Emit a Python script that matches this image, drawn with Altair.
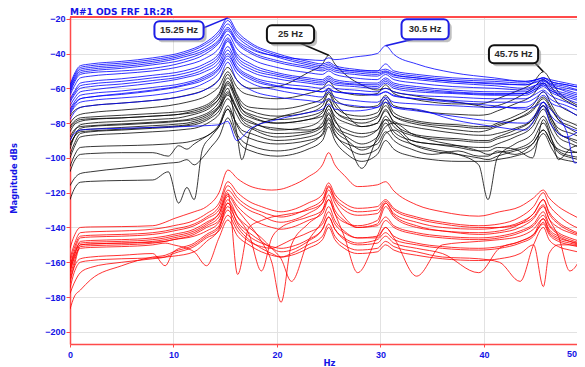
import altair as alt
import pandas as pd

# ---------------- data (dB magnitudes) ----------------
FB = [0, 0.4, 1.0, 2, 5, 8, 11, 13, 14.4, 15.25, 16.1, 17.5, 20, 23, 24.4, 25, 25.6,
      27.5, 29.7, 30.5, 31.3, 33.5, 37, 41, 44, 45.1, 45.75, 46.4, 48, 48.8, 50]
BLUE = [
    [-58,-52,-47,-46,-44.5,-42.5,-39,-34,-27,-19.5,-27,-34,-40,-44.5,-46,-45,-47,-49,-50,-49,-51,-53,-55,-56,-57,-55,-54,-56,-58,-59,-60],
    [-59,-53,-48,-47,-45.5,-43.5,-40,-35,-28.5,-21,-28.5,-35,-41,-45.5,-47,-46,-48,-50,-51,-50,-52,-54,-56,-57.5,-58,-56,-55,-57,-59,-60.5,-62],
    [-60,-54,-49,-48,-46.5,-44.5,-41,-36.5,-30,-23,-30,-36.5,-42,-46.5,-48,-47,-48.5,-50,-50,-46,-50,-52,-54,-55,-56,-55,-54,-55,-57,-58,-59],
    [-61,-55,-50,-49,-47.5,-45.5,-42,-38,-32,-25,-32,-37.5,-41.5,-43.5,-44,-42.5,-43.5,-42,-40,-35.5,-40.5,-46,-51,-54,-56,-55,-54,-56,-58,-59,-60],
    [-63,-57,-52,-51,-50,-48.5,-45,-40.5,-34,-27,-34,-40,-45,-48.5,-50,-49,-50.5,-52,-53,-51,-53.5,-55,-57,-58.5,-60,-58,-57,-59,-61,-62.5,-64],
    [-64,-59,-54,-53,-51.5,-50,-47,-43,-37,-29,-37,-43,-48,-51,-52,-50,-52,-54,-55,-52,-55,-57,-59,-60,-61,-58,-56,-58,-62,-63.5,-65],
    [-66,-62,-57,-56,-54.5,-52.5,-50,-46,-40,-31,-40,-46,-51,-54,-55,-53,-55,-56.5,-57,-54,-57,-59,-61,-62,-62,-59,-57,-60,-63,-64.5,-66],
    [-68,-64,-60,-59,-57.5,-55.5,-53,-49,-43,-33,-43,-49,-53,-56,-57,-55,-57,-58,-59,-56,-59,-61,-62.5,-63.5,-63,-60,-58,-61,-65,-66.5,-68],
    [-70,-66,-62,-61,-59,-57,-54,-50.5,-45,-36,-45,-50.5,-54.5,-57,-58,-56,-58,-59,-60,-57,-60,-62,-63,-64,-64,-61,-59,-62,-66,-68,-70],
    [-72,-68,-64,-63,-61.5,-59.5,-57,-53,-47,-38,-47,-53,-57,-59,-60,-58,-60,-61,-62,-60,-62,-64,-65,-66,-66,-63,-61,-64,-68,-70,-72],
    [-73,-69,-66,-65,-63.5,-61.5,-58.5,-55,-49,-40,-49,-55,-59,-61,-62,-60,-62,-63,-64,-62,-64.5,-66,-67,-68,-68,-65,-62,-66,-70,-72,-75],
    [-75,-71,-68,-67,-65.5,-64,-61,-57,-51,-43,-51,-57,-61,-64,-65,-62,-65,-67,-68,-65,-68,-69,-70,-71,-71,-67,-64,-68,-72,-75,-78],
    [-90,-86,-84,-83.5,-83,-82.5,-82,-81.5,-81,-79,-90,-83,-78,-74,-72,-69,-72,-73,-71,-66,-71,-72,-78,-82,-84,-76,-70,-80,-88,-86,-82],
    [-74,-70,-66,-65,-63,-61,-58,-54,-48.5,-41.5,-48.5,-54,-58.5,-61,-62,-61,-62,-63,-63.5,-62,-64,-66,-68,-70,-72,-70,-68,-72,-85,-103,-92],
    [-62,-56,-51,-50,-48.5,-46.5,-43.5,-39,-33,-26,-33,-39,-44,-47.5,-49,-48,-49.5,-51,-52,-50.5,-52.5,-54,-56,-57,-58,-56.5,-55.5,-57.5,-60,-61,-62.5],
    [-67,-63,-58.5,-57.5,-56,-54,-51.5,-47.5,-41.5,-32,-41.5,-47.5,-52,-55,-56,-54,-56,-57.5,-58,-55,-58,-60,-62,-63,-63,-60,-58,-61,-64,-65.5,-67],
    [-78,-74,-71,-70,-68.5,-67,-64.5,-61,-55,-45,-55,-61,-65,-67,-68,-66,-68,-70,-71,-68,-71,-73,-76,-79,-80,-74,-68,-75,-82,-84,-86],
]

FK = [0, 0.4, 1.0, 2, 5, 8, 9.5, 10.5, 11.3, 12, 12.8, 13.6, 14.4, 15.25, 16.1, 16.6, 17.5,
      20, 23, 24.4, 25, 25.6, 26.8, 28.2, 29.7, 30.5, 31.3, 33, 35, 37.5, 39.5, 40.4, 41.3,
      43, 44.7, 45.75, 46.6, 47.2, 48.5, 50]
BLACK = [
    [-76,-73,-71,-70,-68.5,-67, -66,-65,-64,-63,-61.5, -59,-55,-48,-55,-58, -60,-59,-51,-46,-41, -46,-53,-58,-61,-60, -62,-64,-66,-68,-70, -71,-70,-66,-60,-55, -60,-64,-69,-74],
    [-80,-77,-75,-74,-72.5,-71, -70,-69,-68,-67,-65.5, -63,-59,-50.5,-59,-62, -64,-66,-63,-60,-56, -60,-63,-64,-63,-58, -63,-66,-68,-69,-69, -68,-66,-62,-57,-50.5, -57,-62,-68,-72],
    [-85,-81,-79,-78,-77,-76, -75.5,-75,-74,-73,-71.5, -69,-64,-54,-64,-70, -73,-76,-74,-70,-63, -70,-75,-76,-74,-66, -74,-78,-80,-81,-82, -82,-80,-76,-70,-62, -70,-76,-80,-84],
    [-90,-85,-81,-80,-79,-78, -77.5,-77,-76,-75,-73.5, -71,-66,-57,-66,-72, -76,-80,-78,-74,-66, -73,-78,-80,-77,-68, -76,-80,-82,-84,-85, -84,-82,-78,-72,-65, -72,-78,-84,-88],
    [-95,-88,-83,-82,-81,-80, -79.5,-79,-78.5,-78,-76.5, -74,-70,-60,-85,-101, -84,-77,-72,-68,-62, -68,-76,-82,-80,-72, -80,-86,-88,-89,-90, -90,-88,-84,-78,-68, -78,-85,-90,-94],
    [-98,-92,-86,-85,-84,-83, -82.5,-82,-81.5,-81,-79.5, -77,-73,-63,-72,-76, -79,-84,-82,-77,-70, -78,-90,-106,-88,-78, -85,-90,-92,-93,-94, -94,-92,-88,-82,-72, -82,-88,-92,-96],
    [-100,-94,-88,-87,-86,-85, -84.5,-84,-83.5,-83,-81.5, -79,-75,-66,-75,-80, -83,-88,-86,-82,-74, -82,-88,-92,-88,-80, -87,-92,-95,-98,-104, -124,-100,-92,-86,-76, -86,-92,-96,-98],
    [-108,-102,-98,-97.5,-97,-97, -99,-93,-95,-92,-89, -86,-82,-72,-80,-84, -86,-90,-88,-84,-77, -84,-90,-95.5,-90,-82, -80,-86,-90,-93,-96, -98,-97,-95,-90,-80, -90,-96,-99,-100],
    [-124,-118,-114,-113.5,-113,-112.7, -108,-126,-117,-124,-95, -88,-82,-72,-86,-90, -93,-96,-92,-86,-78, -86,-94,-98,-95,-86, -84,-92,-96,-98,-100, -101,-99,-96,-92,-84, -92,-97,-100,-102],
    [-116,-112,-109,-108,-106,-104, -103,-102.5,-101,-104,-100, -94,-88,-77,-88,-93, -96,-99,-95,-90,-82, -90,-98,-102,-98,-90, -95,-99,-101,-102,-102, -102,-101,-99,-95,-86, -95,-100,-102,-104],
    [-82,-79,-77,-76.5,-75.5,-74.5, -74,-73.5,-73,-72,-70.5, -68,-63,-52,-63,-68, -71,-72,-69,-66,-60, -66,-70,-71,-70,-64, -70,-72,-74,-75,-75.5, -75,-73,-69,-64,-57, -64,-69,-74,-78],
    [-88,-84,-82,-81.5,-80.5,-79.5, -79,-78.5,-78,-77,-75.5, -73,-68,-58,-68,-74, -77,-80,-78,-76,-70, -76,-80,-82,-80,-73, -79,-82,-84,-86,-87, -87,-86,-83,-78,-70, -78,-83,-86,-90],
    [-92,-88,-85,-84.5,-83.5,-82.5, -82,-81.5,-81,-80,-78.5, -76,-71,-62,-71,-77, -80,-83,-84,-82,-75, -82,-86,-88,-84,-78, -80,-90,-92,-94,-96, -96,-94,-95,-100,-78, -90,-101,-94,-92],
    [-105,-99,-94,-93.5,-93,-92.5, -92,-91.5,-91,-90,-88.5, -86,-81,-70,-81,-86, -89,-92,-90,-87,-80, -87,-92,-94,-92,-85, -90,-95,-98,-96,-99, -99,-96,-98,-92,-84, -92,-95,-97,-95],
    [-83,-80,-78,-77.5,-77,-76, -75.5,-75,-74.5,-74,-72.5, -70,-66,-56,-66,-72, -75,-78,-76,-73,-67, -73,-77,-78,-76,-70, -76,-79,-81,-82,-83, -83,-81,-78,-73,-66, -73,-78,-82,-86],
    [-93,-88,-84,-83.5,-82.5,-81.5, -81,-80.5,-80,-79,-77.5, -75,-71,-64,-72,-78, -82,-86,-85,-80,-72, -79,-84,-86,-84,-76, -82,-87,-89,-90,-91, -91,-89,-86,-80,-70, -80,-86,-89,-92],
]

FR = [0, 0.4, 1.0, 2, 5, 8, 9.2, 10, 12, 13.2, 14.4, 15.25, 16.2, 17.3, 18.5, 19.5, 20.4,
      21.4, 23, 24.4, 25, 25.6, 26.5, 27.8, 29.7, 30.5, 31.3, 33.5, 36, 39.5, 41.5, 43.5,
      44.8, 45.75, 46.3, 47.2, 48.3, 50]
RED = [
    [-152,-145,-140,-139.7,-139.5,-139, -137,-135,-131,-128,-120, -107,-112,-116,-118,-118.5, -118,-116,-111,-104,-97, -104,-110,-116.5,-115.5,-113.7, -119,-127,-131,-133.5,-131, -128,-123,-118.5,-123,-128, -132,-137],
    [-158,-150,-143,-142.5,-142,-141, -140,-139,-136,-132,-126, -113.7,-120,-125,-128,-130, -131,-130,-126,-121,-114.4, -121,-126,-129,-128,-124, -129,-134,-137,-139,-138, -134,-128,-120,-127,-133, -138,-142],
    [-162,-154,-146,-145.5,-145,-144, -143,-142,-139,-135,-130, -118.5,-125,-130,-133,-136, -137,-136,-132,-126,-116.7, -124,-130,-133,-132,-126, -132,-137,-140,-141,-140, -137,-132,-124,-131,-137, -141,-145],
    [-165,-157,-148,-147.5,-147,-146, -145,-144,-141,-137,-132, -120,-167,-140,-136,-134, -133,-132,-130,-126,-118.5, -126,-134,-140,-138,-128, -134,-140,-142,-144,-143, -140,-135,-128,-135,-140, -143,-146],
    [-168,-160,-150,-149.5,-149,-148, -147,-146,-143,-139,-134, -122,-130,-138,-148,-160, -183,-150,-138,-130,-121.3, -130,-136,-140,-139,-134, -139,-143,-145,-146,-145, -142,-138,-131,-138,-143, -146,-149],
    [-170,-162,-151,-150.5,-150,-149, -148,-147,-144,-140,-136, -124,-134,-144,-165,-146, -140,-137,-134,-130,-124, -132,-145,-166,-145,-136, -140,-144,-146,-147,-146, -143,-139,-133,-139,-144, -147,-150],
    [-164,-156,-150,-149.5,-149,-148.5, -148,-147,-145,-142,-137, -126,-134,-140,-146,-152, -158,-171,-148,-136,-128, -136,-142,-146,-145,-140, -146,-168,-150,-148,-147, -145,-141,-135,-141,-145, -148,-151],
    [-172,-163,-158,-157,-156,-155, -162,-154,-149,-144,-139, -128,-137,-143,-148,-152, -154,-153,-148,-141,-134, -141,-147,-150,-149,-145, -149,-152,-155,-166,-152, -148,-144,-138,-144,-148, -150,-152],
    [-166,-158,-152,-151.5,-151,-150, -149,-150,-154,-162,-146, -135.7,-145,-150,-154,-156, -157,-155,-150,-145,-138, -145,-150,-153,-152,-148, -151,-154,-157,-158,-160, -171,-150,-140,-147,-151, -153,-155],
    [-187,-180,-176,-170,-162,-157, -156,-154,-150,-145,-140, -130,-140,-147,-152,-155, -157,-156,-152,-147,-140, -147,-152,-155,-154,-150, -153,-156,-158,-159,-158, -155,-150,-174,-155,-150, -150,-152],
    [-160,-152,-145,-144.5,-144,-143, -142,-141,-138,-134,-128, -116,-123,-128,-131,-133, -134,-133,-129,-124,-116, -123,-128,-131,-130,-125, -130,-135,-138,-140,-140, -138,-134,-127,-135,-145, -165,-148],
    [-163,-155,-149,-148.5,-148,-147, -146,-145,-142,-138,-132, -121,-128,-134,-138,-140, -141,-140,-136,-132,-124, -132,-137,-139,-136,-126, -133,-139,-142,-143,-142, -138,-132,-124,-132,-138, -142,-145],
    [-175,-166,-160,-159,-158,-157.5, -157,-156.5,-154,-148,-141, -126,-138,-145,-149,-151, -152,-151,-147,-141,-134, -141,-146,-149,-147,-143, -147,-150,-152,-153,-152, -149,-145,-137,-143,-147, -149,-151],
    [-178,-172,-166,-163,-160,-158, -157,-155,-151,-146,-142, -133,-142,-148,-151,-152, -150,-147,-143,-138,-131, -138,-143,-146,-146,-140, -145,-149,-151,-152,-151, -148,-144,-135,-142,-146, -148,-150],
]

X_TICKS = [0, 10, 20, 30, 40]
X_EDGE_LABEL = "50"
Y_TICKS = [-200, -180, -160, -140, -120, -100, -80, -60, -40, -20]
TITLE = "M#1 ODS FRF 1R:2R"

# peak callouts
ANN_LABEL = ["15.25 Hz", "25 Hz", "30.5 Hz", "45.75 Hz"]
ANN_PEAK_F = [15.25, 25, 30.5, 45.75]
ANN_PEAK_DB = [-19.5, -41, -35.5, -50.5]
ANN_BOX_F = [(8.16, 12.91), (19.03, 23.59), (32.04, 36.6), (40.49, 45.24)]
ANN_BOX_DB = [(-21.45, -31.79), (-23.74, -34.09), (-20.3, -31.8), (-35.2, -45.6)]
ANN_LEAD = [(12.7, -25.8), (22.04, -33.5), (33.69, -31.0), (44.85, -44.8)]
ANN_COLOR = ["#1e1ee6", "#111111", "#1e1ee6", "#111111"]

# ---------------- build ----------------
def frame(group, freqs, curves):
    rows = []
    for i, vals in enumerate(curves):
        assert len(vals) == len(freqs), (group, i, len(vals), len(freqs))
        for f, v in zip(freqs, vals):
            rows.append({"id": f"{group}{i:02d}", "f": f, "db": v})
    return pd.DataFrame(rows)

df_b = frame("b", FB, BLUE)
df_k = frame("k", FK, BLACK)
df_r = frame("r", FR, RED)

ann = pd.DataFrame({
    "label": ANN_LABEL,
    "pf": ANN_PEAK_F, "pdb": ANN_PEAK_DB,
    "x1": [b[0] for b in ANN_BOX_F], "x2": [b[1] for b in ANN_BOX_F],
    "y1": [b[0] for b in ANN_BOX_DB], "y2": [b[1] for b in ANN_BOX_DB],
    "lx": [l[0] for l in ANN_LEAD], "ly": [l[1] for l in ANN_LEAD],
    "col": ANN_COLOR,
})
ann["tx"] = (ann["x1"] + ann["x2"]) / 2
ann["ty"] = (ann["y1"] + ann["y2"]) / 2

W, H = 507, 327
BLUE_TXT = "#1414e6"
RED_AX = "#ff4a4a"
XS = alt.Scale(domain=[0, 49], nice=False, zero=False)
YS = alt.Scale(domain=[-207, -19], nice=False, zero=False)
XAX = alt.Axis(values=X_TICKS, grid=True, gridColor="#e2e2e2", domainColor=RED_AX, domainWidth=1.5,
               tickColor=RED_AX, tickSize=3, labelPadding=3, labelFlush=False,
               labelFont="Liberation Sans", labelFontWeight="bold", labelFontSize=9, labelColor=BLUE_TXT,
               titleFont="DejaVu Sans", titleFontSize=8.5, titleFontWeight="bold", titleColor=BLUE_TXT,
               titleX=259, titleY=21, titleBaseline="alphabetic", titleAlign="center")
YAX = alt.Axis(values=Y_TICKS, grid=True, gridColor="#e2e2e2", domainColor=RED_AX, domainWidth=1.5,
               tickColor=RED_AX, tickSize=4, labelPadding=1,
               labelFont="Liberation Sans", labelFontWeight="bold", labelFontSize=9, labelColor=BLUE_TXT,
               titleFont="DejaVu Sans", titleFontSize=8.4, titleFontWeight="bold", titleColor=BLUE_TXT,
               titleAngle=270, titleAlign="center", titleBaseline="middle", titleX=-57, titleY=161)

def X(field):
    return alt.X(f"{field}:Q", scale=XS, axis=XAX, title="Hz")

def Y(field):
    return alt.Y(f"{field}:Q", scale=YS, axis=YAX, title="Magnitude dBs")

def lines(df, color, opacity):
    return alt.Chart(df).mark_line(interpolate="monotone", strokeWidth=1, color=color,
                                   opacity=opacity, clip=True).encode(
        x=X("f"), y=Y("db"), detail="id:N")

red = lines(df_r, "#ff0000", 0.8)
black = lines(df_k, "#000000", 0.78)
blue = lines(df_b, "#0000ff", 0.8)

one = pd.DataFrame({"t": [TITLE], "e": [X_EDGE_LABEL]})
top_line = alt.Chart(one).mark_rule(color=RED_AX, strokeWidth=2).encode(
    x=alt.value(0), x2=alt.value(W), y=alt.value(0))
title = alt.Chart(one).mark_text(font="DejaVu Sans", fontSize=9, fontWeight="bold", color=BLUE_TXT,
                                 align="left", baseline="alphabetic").encode(
    x=alt.value(0), y=alt.value(-2.2), text="t:N")
edge_label = alt.Chart(one).mark_text(font="Liberation Sans", fontSize=9, fontWeight="bold",
                                      color=BLUE_TXT, align="right", baseline="top").encode(
    x=alt.value(W), y=alt.value(H + 6), text="e:N")

base = alt.Chart(ann)
leader = base.mark_rule(strokeWidth=1.6).encode(
    x=X("lx"), y=Y("ly"), x2="pf:Q", y2="pdb:Q", stroke=alt.Stroke("col:N", scale=None))
shadow = base.mark_rect(color="#8c8c8c", opacity=0.55, cornerRadius=5,
                        xOffset=3, x2Offset=3, yOffset=3, y2Offset=3).encode(
    x=X("x1"), x2="x2:Q", y=Y("y1"), y2="y2:Q")
box = base.mark_rect(fill="white", strokeWidth=2, cornerRadius=5).encode(
    x=X("x1"), x2="x2:Q", y=Y("y1"), y2="y2:Q", stroke=alt.Stroke("col:N", scale=None))
text = base.mark_text(font="Liberation Sans", fontWeight="bold", fontSize=9.5, color="#2a2a2a",
                      baseline="middle", align="center").encode(
    x=X("tx"), y=Y("ty"), text="label:N")

chart = alt.layer(red, black, blue, top_line, leader, shadow, box, text, title, edge_label).properties(
    width=W, height=H,
    autosize=alt.AutoSizeParams(type="none"),
    padding={"left": 62, "top": 9, "right": 0, "bottom": 24},
    background="white",
).configure_view(stroke=None)

chart.save("out.html", embed_options={"renderer": "svg", "actions": False})
